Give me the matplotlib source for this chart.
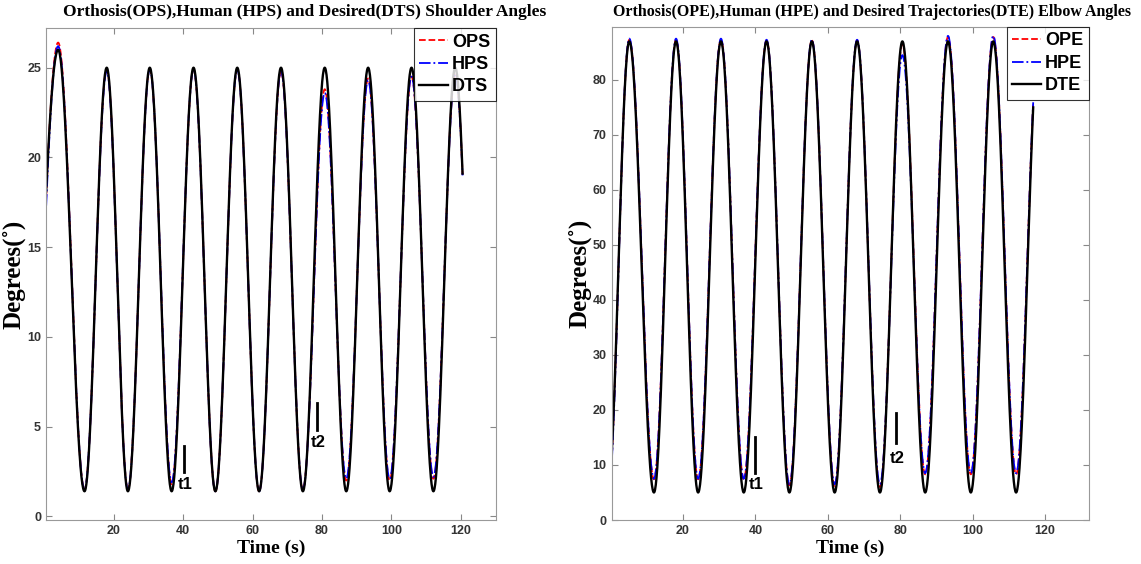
import numpy as np
import matplotlib
matplotlib.use("Agg")
import matplotlib.pyplot as plt

# Extrema (time s, degrees); first/last entries are
# the neighbouring turning points outside the recorded span
sh_t = [-5.0, 4.0, 11.6, 18.0, 24.1, 30.4, 36.7, 43.0, 49.3, 55.6, 61.9,
        68.2, 74.5, 80.8, 87.0, 93.3, 99.5, 105.8, 112.1, 118.4, 124.7]
dts = [1.4, 26.0, 1.4, 25.0, 1.4, 25.0, 1.4, 25.0, 1.4, 25.0, 1.4,
       25.0, 1.4, 25.0, 1.4, 25.0, 1.4, 25.0, 1.4, 25.0, 1.4]
hps = [-1.5, 26.2, 1.5, 24.8, 1.5, 24.9, 1.9, 24.9, 1.4, 24.9, 1.4,
       24.8, 1.5, 23.6, 2.1, 24.3, 2.1, 24.5, 2.2, 24.6, 2.2]
ops = [-0.5, 26.4, 1.5, 24.9, 1.5, 24.9, 1.8, 24.9, 1.4, 24.9, 1.4,
       24.8, 1.5, 23.8, 2.0, 24.4, 2.0, 24.5, 2.1, 24.7, 2.1]
sh_span = (0.5, 120.6)

el_t = [-0.8, 5.2, 12.0, 18.1, 24.2, 30.5, 36.8, 43.1, 49.4, 55.6, 61.9,
        68.1, 74.4, 80.6, 86.9, 93.2, 99.5, 105.7, 112.0, 118.3]
dte = [5.0, 87.0, 5.0, 87.0, 5.0, 87.0, 5.0, 87.0, 5.0, 87.0, 5.0,
       87.0, 5.0, 87.0, 5.0, 87.0, 5.0, 87.0, 5.0, 87.0]
hpe = [3.0, 87.5, 7.5, 87.5, 7.5, 87.5, 7.5, 87.3, 6.5, 87.3, 6.5,
       87.3, 6.5, 84.5, 8.5, 88.0, 8.5, 88.0, 8.5, 87.5]
ope = [4.0, 87.3, 7.4, 87.3, 7.4, 87.3, 7.4, 87.2, 6.3, 87.2, 6.2,
       87.2, 6.0, 86.5, 8.3, 87.8, 8.3, 87.8, 8.3, 87.3]
el_span = (0.3, 116.8)

# t1 / t2 markers: (time, bar bottom, bar top, label y)
sh_marks = [("t1", 40.2, 2.5, 3.9, 1.8), ("t2", 78.6, 4.8, 6.3, 4.1)]
el_marks = [("t1", 40.0, 8.6, 15.0, 6.5), ("t2", 78.9, 14.0, 19.5, 11.2)]


def trace(tk, vk, span, n=60):
    # smooth half-cosine path through consecutive turning points
    tt, vv = [], []
    for i in range(len(tk) - 1):
        s = np.linspace(0, 1, n, endpoint=False)
        tt.append(tk[i] + (tk[i + 1] - tk[i]) * s)
        vv.append(vk[i] + (vk[i + 1] - vk[i]) * (1 - np.cos(np.pi * s)) / 2)
    tt = np.concatenate(tt)
    vv = np.concatenate(vv)
    m = (tt >= span[0]) & (tt <= span[1])
    return tt[m], vv[m]


fig = plt.figure(figsize=(11.41, 5.64), dpi=100)
ax1 = fig.add_axes([0.0403, 0.078, 0.394, 0.872])
ax2 = fig.add_axes([0.536, 0.078, 0.418, 0.874])

panels = [
    (ax1, sh_t, ops, hps, dts, sh_span, ["OPS", "HPS", "DTS"], sh_marks,
     "Orthosis(OPS),Human (HPS) and Desired(DTS) Shoulder Angles",
     0.267, 12.5, (0.5, 130), (-0.2, 27.2), np.arange(0, 26, 5)),
    (ax2, el_t, ope, hpe, dte, el_span, ["OPE", "HPE", "DTE"], el_marks,
     "Orthosis(OPE),Human (HPE) and Desired Trajectories(DTE) Elbow Angles",
     0.764, 11.5, (0.3, 132), (0, 89.6), np.arange(0, 81, 10)),
]

for (ax, tk, o, h, d, span, labels, marks, title, tx, tsize,
     xl, yl, yt) in panels:
    ax.plot(*trace(tk, o, span), color="red", ls="--", lw=1.3, label=labels[0])
    ax.plot(*trace(tk, h, span), color="blue", ls="-.", lw=1.3, label=labels[1])
    ax.plot(*trace(tk, d, span), color="black", ls="-", lw=1.7, label=labels[2])

    for name, x, y0, y1, ly in marks:
        ax.plot([x, x], [y0, y1], color="black", lw=2)
        ax.text(x + 0.3, ly, name, ha="center", va="center",
                fontsize=12, fontweight="bold", family="Liberation Sans")

    ax.set_xlim(*xl)
    ax.set_ylim(*yl)
    ax.set_xticks(np.arange(20, 121, 20))
    ax.set_yticks(yt)
    ax.tick_params(direction="in", top=True, right=True, length=4,
                   color="#888888", labelsize=9, labelcolor="#333333")
    for lab in ax.get_xticklabels() + ax.get_yticklabels():
        lab.set_fontweight("bold")
        lab.set_family("Liberation Sans")
    for sp in ax.spines.values():
        sp.set_color("#999999")

    fig.text(tx, 0.978, title, ha="center", va="center", fontsize=tsize,
             fontweight="bold", family="Liberation Serif")
    ax.set_xlabel("Time (s)", fontsize=14, fontweight="bold",
                  family="Liberation Serif", labelpad=2)
    ax.set_ylabel("Degrees(\u02da)", fontsize=18, fontweight="bold",
                  family="Liberation Serif", labelpad=1)

    leg = ax.legend(loc="upper right", borderaxespad=0, fancybox=False,
                    handlelength=1.6, handletextpad=0.2, borderpad=0.3,
                    labelspacing=0.3,
                    prop={"family": "Liberation Sans", "weight": "bold",
                          "size": 13})
    leg.get_frame().set_edgecolor("black")
    leg.get_frame().set_linewidth(0.8)

fig.savefig("out.png", dpi=100)
